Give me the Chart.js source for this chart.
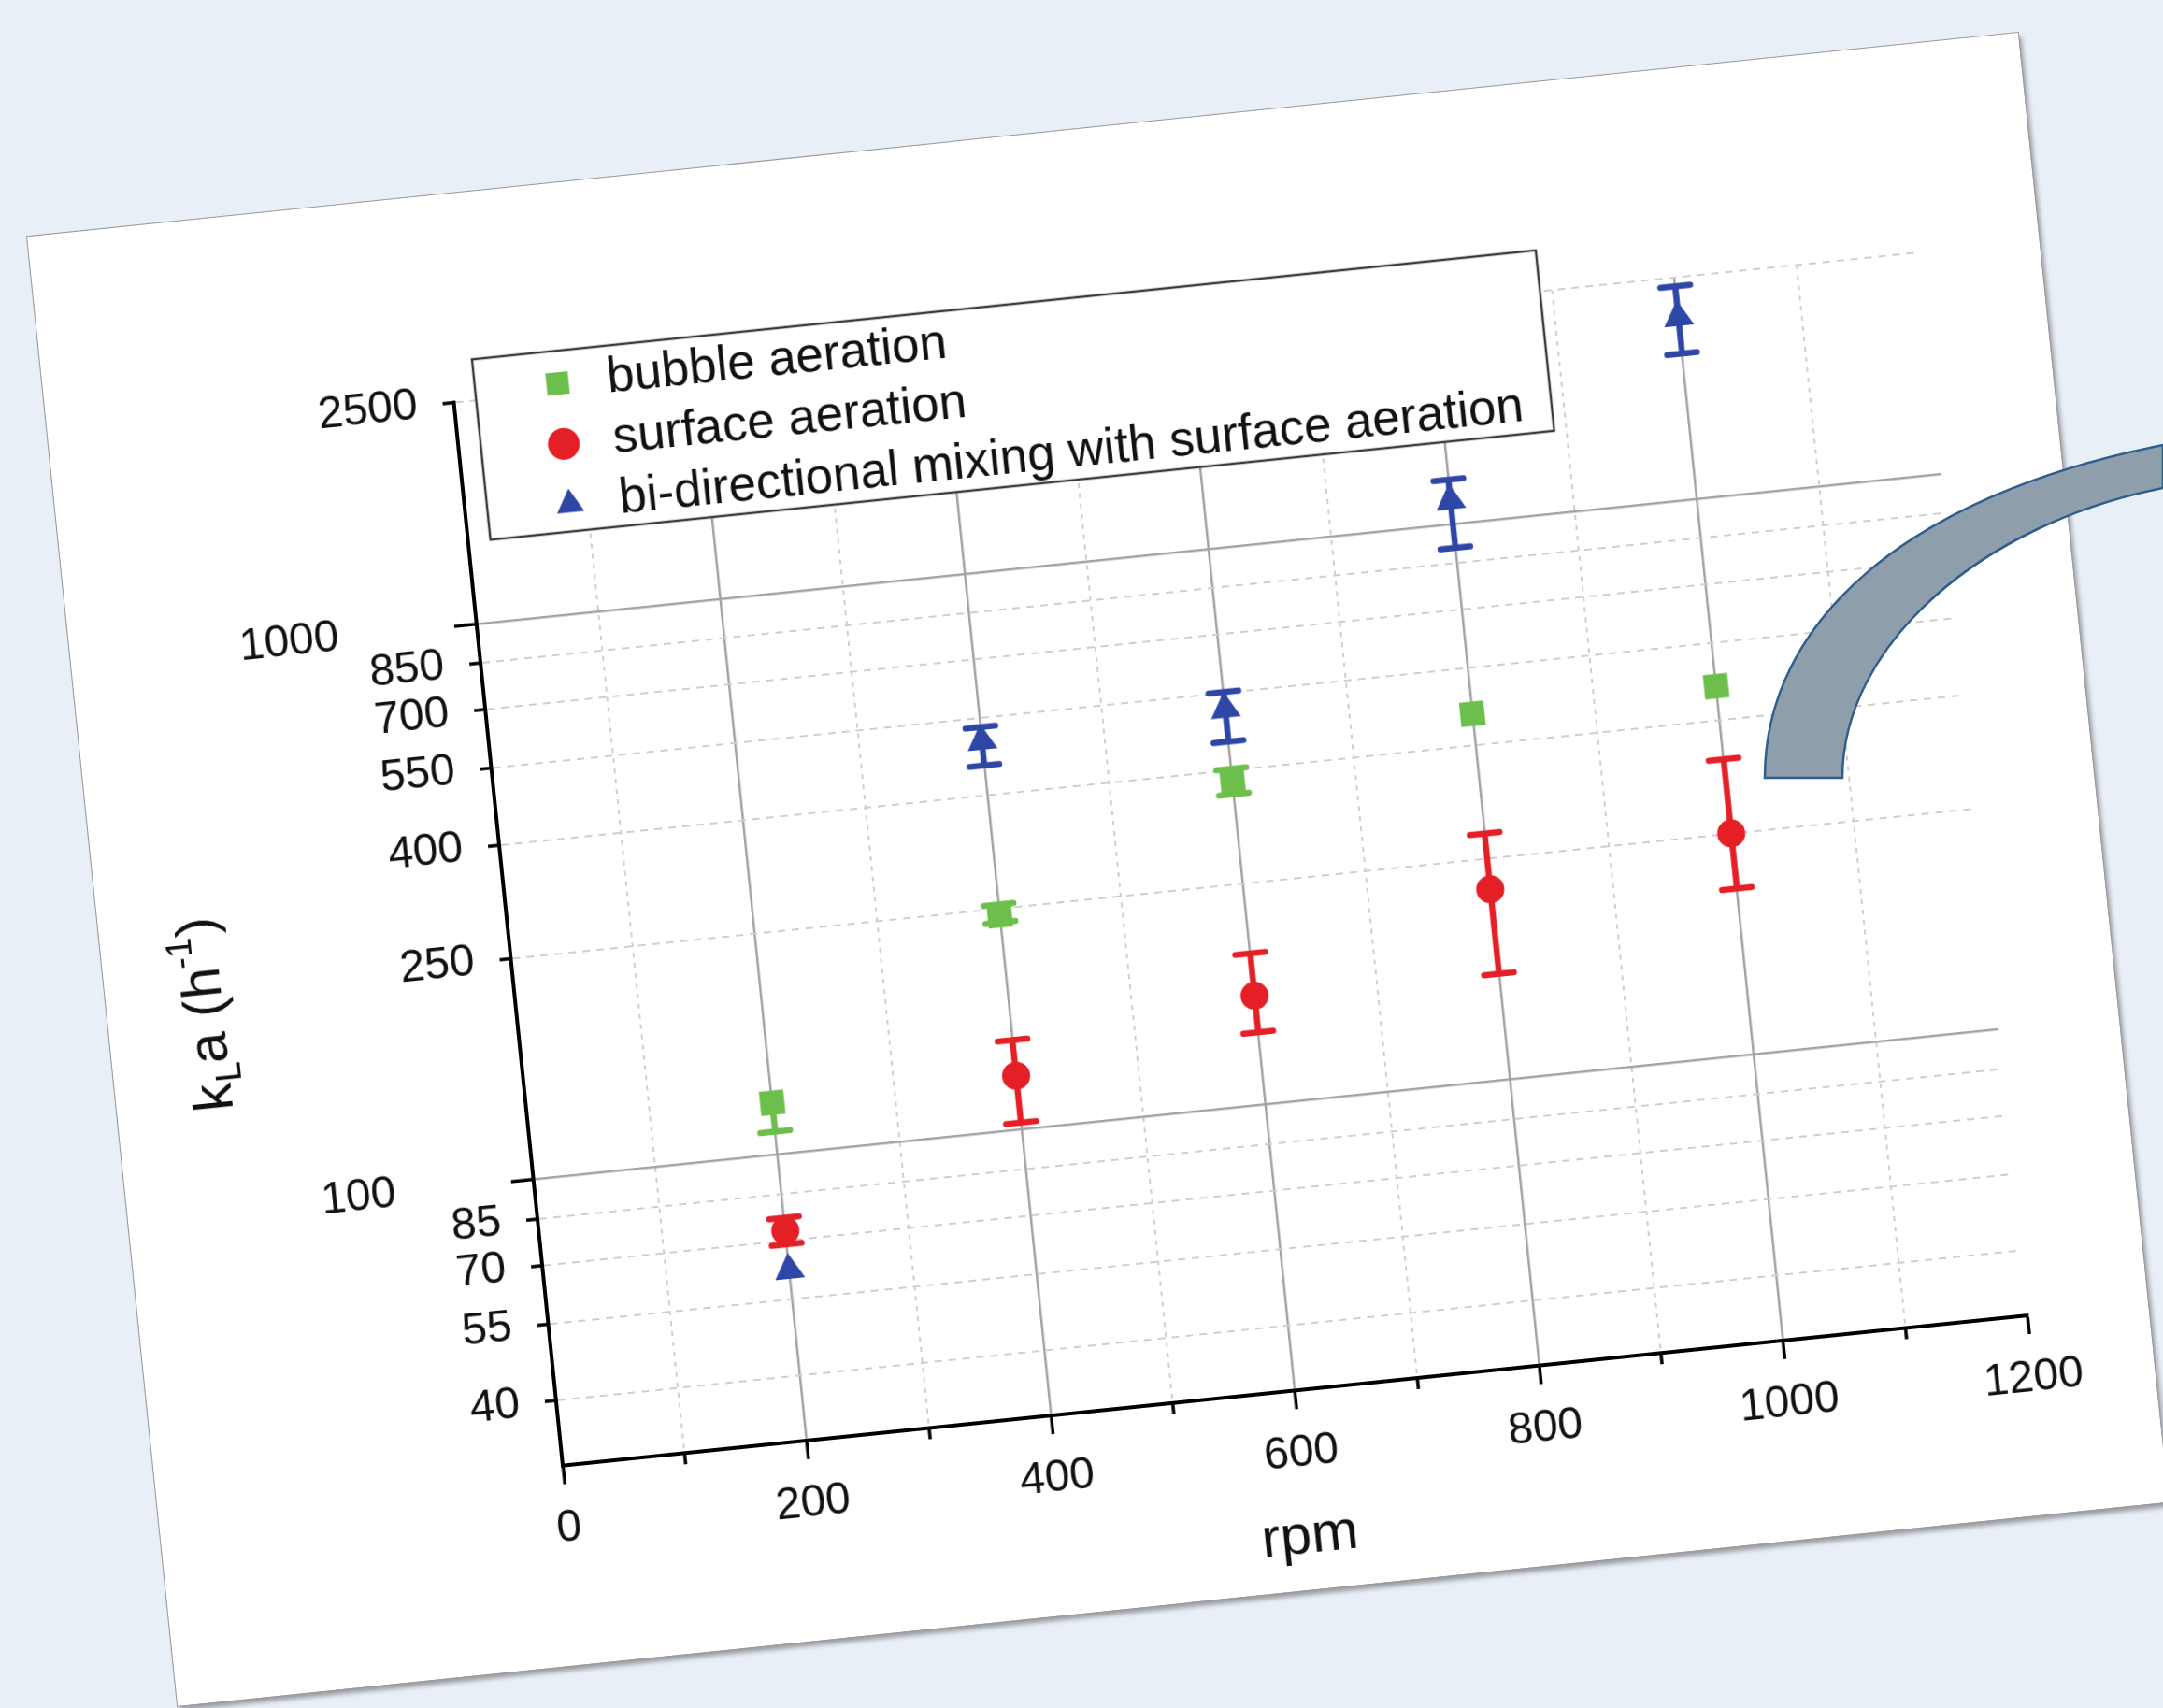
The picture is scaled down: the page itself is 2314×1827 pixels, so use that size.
<!DOCTYPE html>
<html>
<head>
<meta charset="utf-8">
<script src="https://cdn.jsdelivr.net/npm/chart.js@4.4.1/dist/chart.umd.min.js"></script>
<style>
  html, body { margin:0; padding:0; width:2314px; height:1827px; overflow:hidden; background:#e9eff6; }
  #paper { position:absolute; left:104px; top:140px; width:2141px; height:1580px; background:#fff;
           transform:rotate(-5.85deg); transform-origin:50% 50%;
           box-shadow:3px 5px 5px rgba(0,0,0,0.35); outline:1px solid #9a9a9a; }
  #c { position:absolute; left:0; top:0; }
  #arrow { position:absolute; left:0; top:0; pointer-events:none; }
</style>
</head>
<body>
<div id="paper"><canvas id="c" width="2141" height="1580"></canvas></div>
<svg id="arrow" width="2314" height="1827">
  <path d="M1888 832 C1888 665 2040 530 2314 476 L2314 522 C2120 560 1971 690 1971 832 Z"
        fill="#8e9eaa" stroke="#2f5e8e" stroke-width="2.5"/>
</svg>
<script>
// ---- data ----
const rpm = [200, 400, 600, 800, 1000];
const bubble      = [124, 243, 382, 455, 460];
const bubbleLow   = [110, 236, 362, 455, 460];
const bubbleHigh  = [124, 254, 402, 455, 460];
const surface     = [73, 125, 157, 220, 250];
const surfaceLow  = [69, 103, 135, 155, 199];
const surfaceHigh = [77, 145, 187, 277, 340];
const bidir       = [62, 500, 515, 1100, 2120];
const bidirLow    = [62, 452, 450, 905, 1825];
const bidirHigh   = [62, 530, 552, 1200, 2410];
const seriesNames = ['bubble aeration', 'surface aeration', 'bi-directional mixing with surface aeration'];
const xTicks = [0, 100, 200, 300, 400, 500, 600, 700, 800, 900, 1000, 1100, 1200];
const xLabelTicks = [0, 200, 400, 600, 800, 1000, 1200];
const yTicks = [40, 55, 70, 85, 100, 250, 400, 550, 700, 850, 1000, 2500];
const yMajorTicks = [100, 1000];
const yMin = 30.6, yMax = 2500;
const xTitle = 'rpm';
const yTitleParts = [['k', 0], ['L', 1], ['a (h', 0], ['-1', 2], [')', 0]];

// ---- styling ----
const FONT = "'Liberation Sans', Arial, Helvetica, sans-serif";
const GREEN = '#6cbf4a', RED = '#e41f26', BLUE = '#2e47a6';
const MAJOR_GRID = '#a3a3a3', MINOR_GRID = '#cfcfcf', NONE = 'rgba(0,0,0,0)';
const LEGEND_BOX = {left: 460, top: 179, right: 1604, bottom: 373};
const LEGEND_INNER = {left: 510, top: 175.5};

function pts(ys) { return rpm.map((x, i) => ({x: x, y: ys[i]})); }

const tv = c => (c && c.tick) ? c.tick.value : undefined;

const errorBars = {
  id: 'errorBars',
  beforeDatasetsDraw(chart) {
    const ctx = chart.ctx, xs = chart.scales.x, ys = chart.scales.y;
    chart.data.datasets.forEach(ds => {
      ds.data.forEach((p, i) => {
        const px = xs.getPixelForValue(p.x);
        const py = ys.getPixelForValue(p.y);
        ctx.save();
        ctx.strokeStyle = ds.backgroundColor;
        ctx.lineWidth = 6.5;
        ctx.lineCap = 'round';
        const seg = (yv) => {
          const ph = ys.getPixelForValue(yv);
          ctx.beginPath();
          ctx.moveTo(px, py); ctx.lineTo(px, ph);
          ctx.moveTo(px - 16, ph); ctx.lineTo(px + 16, ph);
          ctx.stroke();
        };
        if (ds.errHigh[i] > p.y) seg(ds.errHigh[i]);
        if (ds.errLow[i] < p.y) seg(ds.errLow[i]);
        ctx.restore();
      });
    });
  }
};

const decor = {
  id: 'decor',
  beforeDraw(chart) {
    const lg = chart.legend;
    if (!lg) return;
    lg.left = LEGEND_INNER.left; lg.top = LEGEND_INNER.top;
    lg.right = LEGEND_BOX.right; lg.bottom = LEGEND_INNER.top + 240;
    lg.width = lg.right - lg.left; lg.height = lg.bottom - lg.top;
    if (!lg.__wrapped) {
      const orig = lg.draw;
      lg.draw = function () {
        const c = this.ctx;
        c.save();
        c.fillStyle = '#ffffff';
        c.fillRect(LEGEND_BOX.left, LEGEND_BOX.top, LEGEND_BOX.right - LEGEND_BOX.left, LEGEND_BOX.bottom - LEGEND_BOX.top);
        c.strokeStyle = '#3a3a3a'; c.lineWidth = 2.5;
        c.strokeRect(LEGEND_BOX.left, LEGEND_BOX.top, LEGEND_BOX.right - LEGEND_BOX.left, LEGEND_BOX.bottom - LEGEND_BOX.top);
        c.restore();
        return orig.apply(this, arguments);
      };
      lg.__wrapped = true;
    }
  },
  afterDraw(chart) {
    // y axis title with subscript / superscript
    const c = chart.ctx;
    c.save();
    c.translate(103, 847);
    c.rotate(-Math.PI / 2);
    c.fillStyle = '#111';
    c.textBaseline = 'alphabetic';
    c.textAlign = 'left';
    const big = '60px ' + FONT, small = '38px ' + FONT;
    let total = 0;
    yTitleParts.forEach(([t, k]) => { c.font = k ? small : big; total += c.measureText(t).width; });
    let x = -total / 2;
    yTitleParts.forEach(([t, k]) => {
      c.font = k ? small : big;
      const y = k === 1 ? 33 : (k === 2 ? -6 : 21);
      c.fillText(t, x, y);
      x += c.measureText(t).width;
    });
    c.restore();
  }
};

const chart = new Chart(document.getElementById('c'), {
  type: 'scatter',
  data: {
    datasets: [
      {label: seriesNames[0], data: pts(bubble), errLow: bubbleLow, errHigh: bubbleHigh,
       pointStyle: 'rect', pointRadius: 18.5, backgroundColor: GREEN, borderColor: GREEN, borderWidth: 0},
      {label: seriesNames[1], data: pts(surface), errLow: surfaceLow, errHigh: surfaceHigh,
       pointStyle: 'circle', pointRadius: 15, backgroundColor: RED, borderColor: RED, borderWidth: 0},
      {label: seriesNames[2], data: pts(bidir), errLow: bidirLow, errHigh: bidirHigh,
       pointStyle: 'triangle', pointRadius: 18.5, backgroundColor: BLUE, borderColor: BLUE, borderWidth: 0}
    ]
  },
  options: {
    responsive: false,
    animation: false,
    devicePixelRatio: 1,
    events: [],
    layout: {padding: {left: 126, right: 130, top: 223, bottom: 0}},
    scales: {
      x: {
        type: 'linear', position: 'bottom', min: xTicks[0], max: xTicks[xTicks.length - 1],
        afterBuildTicks: s => { s.ticks = xTicks.map(v => ({value: v})); },
        afterFit: s => { s.height = 214; },
        ticks: {autoSkip: false, maxRotation: 0, minRotation: 0, padding: 19, color: '#111',
                font: {family: FONT, size: 48},
                callback: v => xLabelTicks.includes(v) ? String(v) : ''},
        grid: {
          color: c => { const v = tv(c); if (v === undefined || v === xTicks[0] || v === xTicks[xTicks.length - 1]) return NONE;
                        return xLabelTicks.includes(v) ? MAJOR_GRID : MINOR_GRID; },
          lineWidth: c => xLabelTicks.includes(tv(c)) ? 2.5 : 2,
          tickLength: 20, tickWidth: 3.5, tickColor: '#000',
          tickBorderDash: c => xLabelTicks.includes(tv(c)) ? [] : [10, 100]
        },
        border: {display: true, color: '#000', width: 4,
                 dash: c => (tv(c) !== undefined && !xLabelTicks.includes(tv(c))) ? [5, 6] : []},
        title: {display: true, text: xTitle, color: '#111', font: {family: FONT, size: 60},
                padding: {top: 0, bottom: 21}}
      },
      y: {
        type: 'logarithmic', position: 'left', weight: 0, min: yMin, max: yMax,
        afterBuildTicks: s => { s.ticks = yTicks.map(v => ({value: v})); },
        afterFit: s => { s.width = 148; },
        ticks: {autoSkip: false, padding: 15, color: '#111', font: {family: FONT, size: 48},
                callback: v => yMajorTicks.includes(v) ? '' : String(v)},
        grid: {
          color: c => { const v = tv(c); if (v === undefined) return NONE; return yMajorTicks.includes(v) ? MAJOR_GRID : MINOR_GRID; },
          lineWidth: c => yMajorTicks.includes(tv(c)) ? 2.5 : 2,
          tickLength: 24, tickWidth: 3.5, tickColor: '#000',
          tickBorderDash: c => yMajorTicks.includes(tv(c)) ? [] : [0, 12, 12, 100]
        },
        border: {display: true, color: '#000', width: 4,
                 dash: c => (tv(c) !== undefined && !yMajorTicks.includes(tv(c))) ? [8, 7] : []}
      },
      y2: {
        type: 'logarithmic', position: 'left', weight: 1, min: yMin, max: yMax,
        afterBuildTicks: s => { s.ticks = yMajorTicks.map(v => ({value: v})); },
        afterFit: s => { s.width = 162; },
        ticks: {autoSkip: false, padding: 0, color: '#111', font: {family: FONT, size: 48},
                callback: v => String(v)},
        grid: {display: false, drawTicks: false, drawOnChartArea: false},
        border: {display: false}
      }
    },
    plugins: {
      tooltip: {enabled: false},
      legend: {
        display: true, position: 'chartArea', align: 'start',
        labels: {usePointStyle: true, boxWidth: 53, boxHeight: 24, padding: 12, color: '#111',
                 font: {family: FONT, size: 53}}
      }
    }
  },
  plugins: [errorBars, decor]
});
</script>
</body>
</html>
